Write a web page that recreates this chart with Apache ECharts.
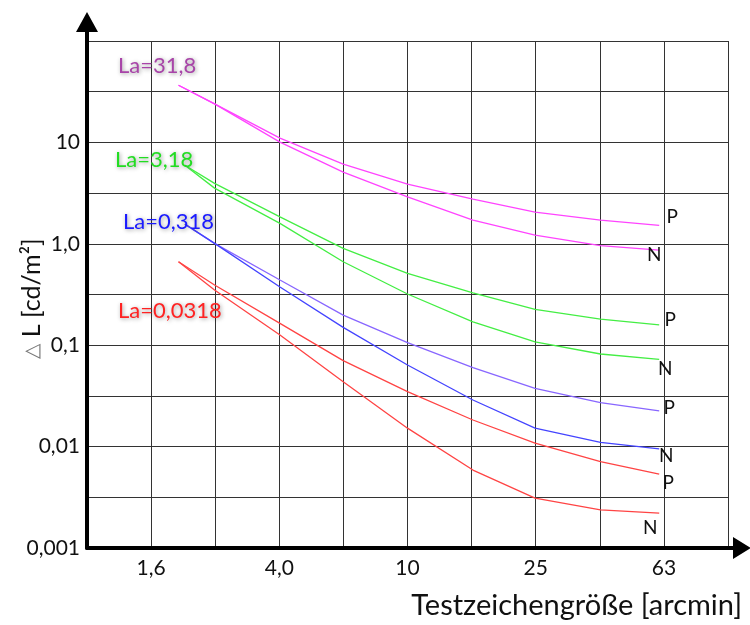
<!DOCTYPE html>
<html>
<head>
<meta charset="utf-8">
<script src="https://cdn.jsdelivr.net/npm/echarts@6/dist/echarts.min.js"></script>
<style>
  html, body { margin: 0; padding: 0; background: #fff; }
  #chart { width: 750px; height: 625px; }
</style>
</head>
<body>
<div id="chart"></div>
<script>
// Testzeichengröße [arcmin] an den Stützstellen (erster Punkt jeder Kurve aus startSize)
const sizes = [2.5, 4.0, 6.3, 10, 16, 25, 40, 61];
const startSize = [1.93, 2.02, 2.02, 1.93];
const groupNames = ['La=31,8', 'La=3,18', 'La=0,318', 'La=0,0318'];

// ΔL [cd/m²] – P und N je Adaptationsleuchtdichte
const la31P = [36.6, 24.0, 11.0, 6.1, 3.87, 2.76, 2.05, 1.71, 1.52];
const la31N = [36.6, 24.0, 10.05, 5.09, 2.9, 1.71, 1.22, 0.96, 0.867];
const la3P = [5.96, 3.94, 1.845, 0.901, 0.511, 0.329, 0.226, 0.181, 0.159];
const la3N = [5.96, 3.54, 1.589, 0.665, 0.320, 0.170, 0.108, 0.0819, 0.0726];
const la03P = [1.563, 1.01, 0.439, 0.198, 0.106, 0.060, 0.0376, 0.0271, 0.0225];
const la03N = [1.563, 1.01, 0.375, 0.150, 0.0638, 0.0288, 0.0152, 0.011, 0.0095];
const la003P = [0.665, 0.392, 0.164, 0.0704, 0.0348, 0.0183, 0.0108, 0.00712, 0.00535];
const la003N = [0.665, 0.350, 0.126, 0.0437, 0.0152, 0.00587, 0.0031, 0.00238, 0.00221];

// Achsbeschriftung (R5-Reihe auf x, halbe Dekaden auf y)
const xTickLabels = ['', '1,6', '', '4,0', '', '10', '', '25', '', '63', ''];
const yTickLabels = ['0,001', '', '0,01', '', '0,1', '', '1,0', '', '10', '', ''];

const font = 'Lato, "Open Sans", sans-serif';
const arrowY = 'path://M11,0 L22,20 L13,20 L13,29 L9,29 L9,20 L0,20 Z';
const arrowX = 'path://M11,0 L22,18 L13,18 L13,23 L9,23 L9,18 L0,18 Z';

function curve(name, color, x0, ys, mark, offset) {
  const data = ys.map((v, i) => [i === 0 ? x0 : sizes[i - 1], v]);
  const last = data[data.length - 1];
  return {
    name: name,
    type: 'line',
    data: data,
    showSymbol: false,
    animation: false,
    lineStyle: { color: color, width: 1.3 },
    itemStyle: { color: color },
    markPoint: {
      symbol: 'circle',
      symbolSize: 1,
      silent: true,
      itemStyle: { color: 'rgba(0,0,0,0)' },
      label: {
        show: true,
        position: 'inside',
        formatter: mark,
        offset: offset,
        color: '#111',
        fontSize: 19,
        fontFamily: font
      },
      data: [{ coord: last }]
    }
  };
}

function laText(text, x, y, color) {
  return {
    type: 'text',
    x: x,
    y: y,
    z: 100,
    style: {
      text: text,
      fill: color,
      font: '22px ' + font,
      verticalAlign: 'middle',
      textShadowColor: 'rgba(0,0,0,0.4)',
      textShadowBlur: 4,
      textShadowOffsetX: 1,
      textShadowOffsetY: 1
    }
  };
}

const chart = echarts.init(document.getElementById('chart'));

chart.setOption({
  backgroundColor: '#fff',
  animation: false,
  grid: { left: 87, right: 22, top: 41, bottom: 77, containLabel: false, outerBoundsMode: 'none' },
  xAxis: {
    type: 'log',
    logBase: Math.pow(10, 0.2),
    min: 1,
    max: 99.99,
    splitNumber: 10,
    name: 'Testzeichengröße [arcmin]',
    nameLocation: 'end',
    nameGap: 14,
    nameMoveOverlap: false,
    nameTextStyle: {
      align: 'right',
      verticalAlign: 'top',
      padding: [43, 0, 0, 0],
      fontSize: 29,
      color: '#111',
      fontFamily: font
    },
    axisLine: {
      show: true,
      lineStyle: { color: '#000', width: 4 },
      symbol: ['none', arrowX],
      symbolSize: [22, 23],
      symbolOffset: [0, 11.5]
    },
    axisTick: { show: false },
    axisLabel: {
      margin: 10,
      fontSize: 21,
      color: '#111',
      fontFamily: font,
      formatter: (v) => xTickLabels[Math.round(Math.log10(v) * 5)] || ''
    },
    splitLine: { show: true, lineStyle: { color: '#333', width: 1 } }
  },
  yAxis: {
    type: 'log',
    logBase: Math.sqrt(10),
    min: 0.001,
    max: 99.99,
    splitNumber: 10,
    name: '{t|△} L [cd/m²]',
    nameLocation: 'middle',
    nameRotate: 90,
    nameGap: 43,
    nameMoveOverlap: false,
    nameTextStyle: {
      fontSize: 25,
      color: '#111',
      fontFamily: font,
      padding: [0, 8, 0, 0],
      rich: { t: { fontSize: 20, color: '#777', fontFamily: font } }
    },
    axisLine: {
      show: true,
      lineStyle: { color: '#000', width: 4 },
      symbol: ['none', arrowY],
      symbolSize: [22, 29],
      symbolOffset: [0, 14.5]
    },
    axisTick: { show: false },
    axisLabel: {
      margin: 7,
      fontSize: 21,
      color: '#111',
      fontFamily: font,
      formatter: (v) => yTickLabels[Math.round(Math.log10(v) * 2) + 6] || ''
    },
    splitLine: { show: true, lineStyle: { color: '#333', width: 1 } }
  },
  graphic: [
    laText(groupNames[0], 118, 66, '#a844a8'),
    laText(groupNames[1], 115, 160, '#22dd22'),
    laText(groupNames[2], 123, 222, '#1a1aff'),
    laText(groupNames[3], 118, 311, '#ff2222')
  ],
  series: [
    curve('31,8 P', '#ff44ff', startSize[0], la31P, 'P', [13, -8]),
    curve('31,8 N', '#ff44ff', startSize[0], la31N, 'N', [-5, 5]),
    curve('3,18 P', '#44ee44', startSize[1], la3P, 'P', [11, -5]),
    curve('3,18 N', '#44ee44', startSize[1], la3N, 'N', [6, 10]),
    curve('0,318 P', '#8866ff', startSize[2], la03P, 'P', [10, -3]),
    curve('0,318 N', '#4444ff', startSize[2], la03N, 'N', [7, 7]),
    curve('0,0318 P', '#ff4444', startSize[3], la003P, 'P', [9, 9]),
    curve('0,0318 N', '#ff4444', startSize[3], la003N, 'N', [-9, 15])
  ]
});
</script>
</body>
</html>
